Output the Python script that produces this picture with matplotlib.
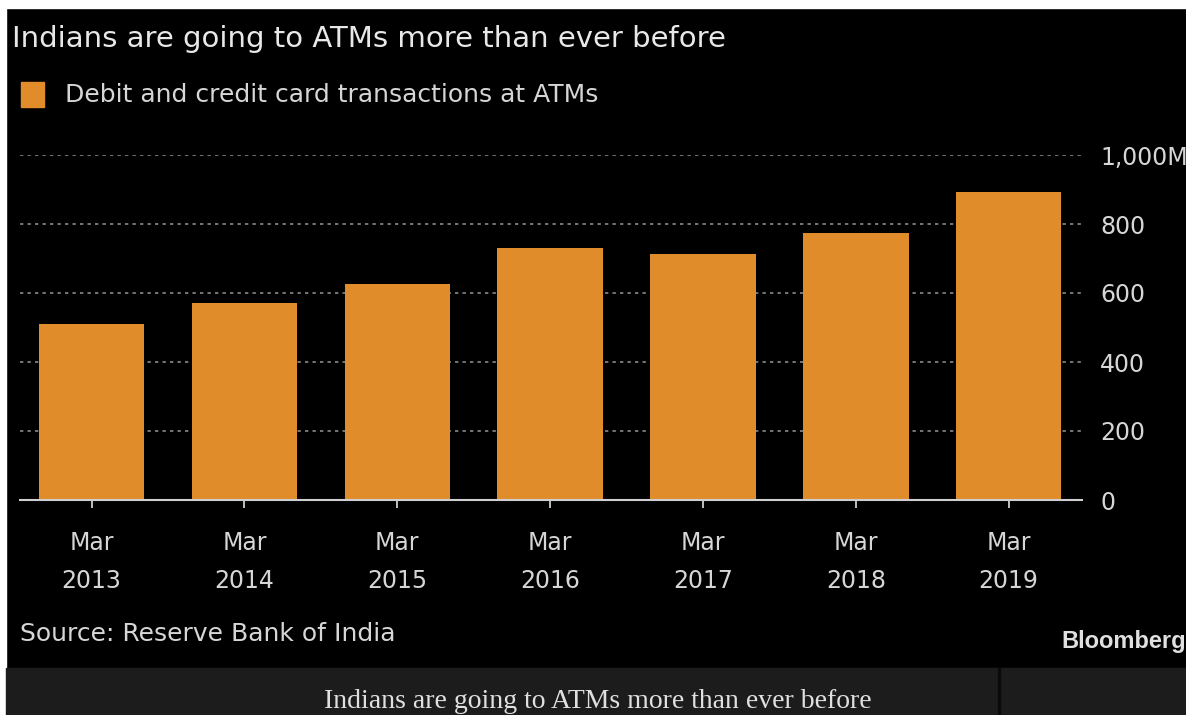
import matplotlib.pyplot as plt
import numpy as np
from matplotlib.patches import Rectangle

# Values (millions of transactions)
KUUD = ["Mar\n2013", "Mar\n2014", "Mar\n2015", "Mar\n2016",
        "Mar\n2017", "Mar\n2018", "Mar\n2019"]
TEHINGUD = [509, 571, 627, 730, 714, 774, 894]
Y_TICKS = [0, 200, 400, 600, 800, 1000]
Y_LABELS = ["0", "200", "400", "600", "800", "1,000M"]

W, H = 1186, 715
ORANZ = "#E08C2B"
TEKST = "#d6d6d6"


def fx(px):
    return px / W


def fy(py):
    return (H - py) / H


fig = plt.figure(figsize=(W / 100, H / 100), dpi=100, facecolor="black")

# page frame: white border top/left, grey caption strip at the bottom
fig.patches.append(Rectangle((0, 0), fx(6), 1, transform=fig.transFigure,
                             color="white", zorder=0))
fig.patches.append(Rectangle((0, fy(8)), 1, 1 - fy(8), transform=fig.transFigure,
                             color="white", zorder=0))
fig.patches.append(Rectangle((fx(6), 0), 1, fy(668), transform=fig.transFigure,
                             color="#1c1c1c", zorder=0))
fig.patches.append(Rectangle((fx(998), 0), fx(2), fy(668), transform=fig.transFigure,
                             color="#0a0a0a", zorder=0))

ax = fig.add_axes([fx(20), fy(500), fx(1082) - fx(20), fy(155) - fy(500)])
ax.set_facecolor("black")

x = np.arange(len(KUUD))
ax.bar(x, TEHINGUD, width=0.69, color=ORANZ, zorder=2)

ax.set_xlim(-0.468, 6.48)
ax.set_ylim(0, 1000)
ax.set_yticks(Y_TICKS)
ax.set_yticklabels(Y_LABELS)
ax.yaxis.tick_right()
ax.tick_params(axis="y", length=0, pad=13, labelsize=17, labelcolor=TEKST)
ax.set_xticks(x)
ax.set_xticklabels(KUUD, linespacing=1.75)
ax.tick_params(axis="x", length=6, width=1.3, color="#cfcfcf", pad=16,
               labelsize=17, labelcolor=TEKST)

for s in ["top", "left", "right"]:
    ax.spines[s].set_visible(False)
ax.spines["bottom"].set_color("#cfcfcf")
ax.spines["bottom"].set_linewidth(1.5)
ax.spines["bottom"].set_zorder(3)

ax.grid(axis="y", color="#8a8a8a", linestyle=(0, (2, 2.5)), linewidth=1.2)
ax.set_axisbelow(True)

# headings
fig.text(fx(12), fy(47), "Indians are going to ATMs more than ever before",
         fontsize=21, color="#e8e8e8", va="baseline")
fig.patches.append(Rectangle((fx(21), fy(107)), fx(23), fy(82) - fy(107),
                             transform=fig.transFigure, color=ORANZ))
fig.text(fx(65), fy(102), "Debit and credit card transactions at ATMs",
         fontsize=18, color=TEKST, va="baseline")

# footer
fig.text(fx(20), fy(641), "Source: Reserve Bank of India",
         fontsize=18, color=TEKST, va="baseline")
fig.text(fx(1186), fy(648), "Bloomberg", fontsize=17, fontweight="bold",
         family="Liberation Sans", color="#e0e0e0", ha="right", va="baseline")
fig.text(fx(598), fy(708), "Indians are going to ATMs more than ever before",
         fontsize=20, family="Liberation Serif", color="#e0e0e0",
         ha="center", va="baseline")

fig.savefig("out.png", dpi=100, facecolor=fig.get_facecolor())
